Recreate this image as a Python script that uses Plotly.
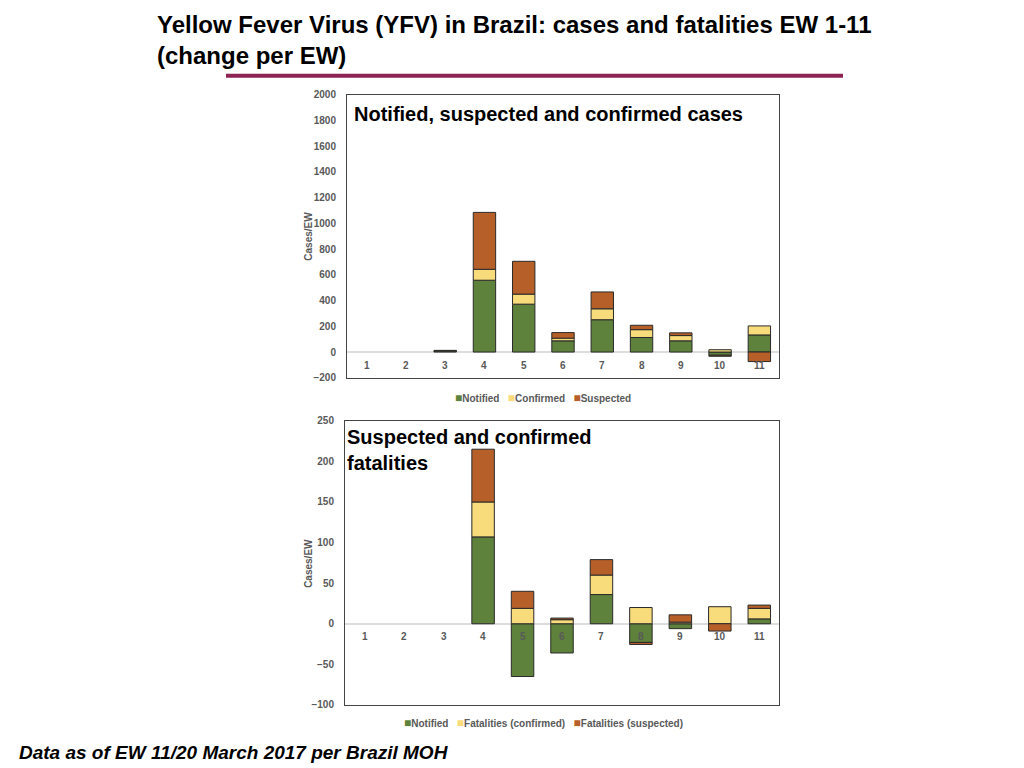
import plotly.graph_objects as go

weeks = ["1", "2", "3", "4", "5", "6", "7", "8", "9", "10", "11"]

# Cases per EW (change)
cases_notified = [0, 0, 8, 558, 372, 87, 251, 113, 87, -25, 133]
cases_confirmed = [0, 0, 0, 85, 78, 21, 85, 61, 41, 18, 70]
cases_suspected = [0, 0, 5, 442, 255, 43, 131, 34, 21, -8, -74]

# Fatalities per EW (change)
fat_notified = [0, 0, 0, 107, -65, -36, 36, -23, -6, 0, 6]
fat_confirmed = [0, 0, 0, 43, 19, 5, 24, 20, 2, 21, 13]
fat_suspected = [0, 0, 0, 65, 21, 2, 19, -2.5, 9, -9, 4]

cases_names = ["Notified", "Confirmed", "Suspected"]
fat_names = ["Notified", "Fatalities (confirmed)", "Fatalities (suspected)"]

GREEN = "#5E823C"
YELLOW = "#F8DB7B"
ORANGE = "#B75F28"
OUTLINE = "#2a2a2a"
GRAY = "#595959"
SANS = "Liberation Sans, Arial, sans-serif"
COLORS = [GREEN, YELLOW, ORANGE]


def py(px):
    """Paper y fraction for a target pixel row (compensates page rendering)."""
    return 1 - ((px - 5.4) / 0.9852) / 768


def pxx(px):
    return px / 1024


fig = go.Figure()

def add(vals, name, color, xa, ya):
    fig.add_trace(go.Bar(
        x=weeks, y=vals, name=name, xaxis=xa, yaxis=ya, showlegend=False,
        marker=dict(color=color,
                    line=dict(color=OUTLINE, width=[0 if v == 0 else 1 for v in vals])),
    ))

for vals, name, c in zip([cases_notified, cases_confirmed, cases_suspected], cases_names, COLORS):
    add(vals, name, c, "x", "y")
for vals, name, c in zip([fat_notified, fat_confirmed, fat_suspected], fat_names, COLORS):
    add(vals, name, c, "x2", "y2")

tickfont = dict(family=SANS, size=10, color=GRAY, weight="bold")
axis_common = dict(showline=True, linecolor="#444444", linewidth=1, mirror=True,
                   showgrid=False)

fig.update_layout(
    width=1024, height=768,
    margin=dict(l=0, r=0, t=0, b=0),
    paper_bgcolor="white", plot_bgcolor="white",
    barmode="relative", bargap=0.43,
    showlegend=False,
    xaxis=dict(domain=[pxx(347), pxx(779)], anchor="y", type="category", showticklabels=False,
               ticks="", **axis_common),
    yaxis=dict(domain=[py(378), py(95)], anchor="x", range=[-200, 2000], dtick=200,
               tickfont=tickfont, zeroline=True, zerolinecolor="#dddddd",
               zerolinewidth=1.5, ticks="", ticklabelstandoff=8, **axis_common),
    xaxis2=dict(domain=[pxx(345), pxx(779)], anchor="y2", type="category", showticklabels=False,
                ticks="", **axis_common),
    yaxis2=dict(domain=[py(705), py(421)], anchor="x2", range=[-100, 250], dtick=50,
                tickfont=tickfont, zeroline=True, zerolinecolor="#dddddd",
                zerolinewidth=1.5, ticks="", ticklabelstandoff=8, **axis_common),
    font=dict(family=SANS),
)

# Axis titles
for yc in (237, 564):
    fig.add_annotation(x=pxx(309), y=py(yc), xref="paper", yref="paper", text="Cases/EW",
                       textangle=-90, showarrow=False, xanchor="center", yanchor="middle",
                       font=dict(family=SANS, size=10, color=GRAY, weight="bold"))

# Category labels placed at the zero line (category index positions)
for i, w in enumerate(weeks):
    for xr, yr in (("x", "y"), ("x2", "y2")):
        fig.add_annotation(x=i, y=0, xref=xr, yref=yr, text=w, showarrow=False, yshift=-13,
                           font=dict(family=SANS, size=10, color=GRAY, weight="bold"))

# Legends (compact, as in the original)
def legend_text(names):
    return "&nbsp;&nbsp;&nbsp;".join(
        "<span style='color:%s;font-size:12px'>■</span>%s" % (c, n) for c, n in zip(COLORS, names))

fig.add_annotation(x=pxx(543), y=py(398), xref="paper", yref="paper",
                   xanchor="center", yanchor="middle", showarrow=False,
                   text=legend_text(cases_names),
                   font=dict(family=SANS, size=10, color=GRAY, weight="bold"))
fig.add_annotation(x=pxx(543), y=py(723), xref="paper", yref="paper",
                   xanchor="center", yanchor="middle", showarrow=False,
                   text=legend_text(fat_names),
                   font=dict(family=SANS, size=10, color=GRAY, weight="bold"))

# Titles
fig.add_annotation(x=pxx(155), y=py(9), xref="paper", yref="paper",
                   xanchor="left", yanchor="top", align="left", showarrow=False,
                   text="<b>Yellow Fever Virus (YFV) in Brazil: cases and fatalities EW 1-11<br>(change per EW)</b>",
                   font=dict(family=SANS, size=24, color="black"))
fig.add_shape(type="line", xref="paper", yref="paper",
              x0=pxx(226), x1=pxx(843), y0=py(76), y1=py(76),
              line=dict(color="#8C2352", width=4))
fig.add_annotation(x=pxx(352), y=py(101), xref="paper", yref="paper",
                   xanchor="left", yanchor="top", showarrow=False,
                   text="<b>Notified, suspected and confirmed cases</b>",
                   font=dict(family=SANS, size=20, color="black"))
fig.add_annotation(x=pxx(345), y=py(424), xref="paper", yref="paper",
                   xanchor="left", yanchor="top", align="left", showarrow=False,
                   text="<b>Suspected and confirmed<br>fatalities</b>",
                   font=dict(family=SANS, size=20, color="black"))
fig.add_annotation(x=pxx(17), y=py(753), xref="paper", yref="paper",
                   xanchor="left", yanchor="middle", showarrow=False,
                   text="<b><i>Data as of EW 11/20 March 2017 per Brazil MOH</i></b>",
                   font=dict(family=SANS, size=19, color="black"))

fig.write_html(
    "out.html",
    config={"displayModeBar": False},
    post_script=("document.documentElement.style.overflow='hidden';"
                 "document.body.style.margin='0';"
                 "document.body.style.overflow='hidden';"
                 "document.body.style.height='768px';"),
)
